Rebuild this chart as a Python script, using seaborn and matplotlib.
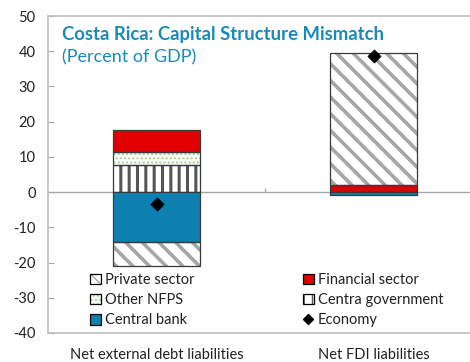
import pandas as pd
import matplotlib
matplotlib.use("Agg")
import matplotlib.pyplot as plt
import seaborn as sns
from matplotlib.patches import Patch
from matplotlib.lines import Line2D

# ------------------------------ dados ------------------------------
categorias = ["Net external debt liabilities", "Net FDI liabilities"]
central_gov = [7.7, 0.0]
other_nfps = [3.8, 0.0]
financial_sector = [6.0, 2.1]
central_bank = [-14.3, -0.7]
private_sector = [-6.6, 37.4]
economy = [-3.4, 38.7]

titulo = "Costa Rica: Capital Structure Mismatch"
subtitulo = "(Percent of GDP)"
yticks = [-40, -30, -20, -10, 0, 10, 20, 30, 40, 50]

# ordem de empilhamento (igual ao Excel)
series = {
    "Centra government": central_gov,
    "Other NFPS": other_nfps,
    "Financial sector": financial_sector,
    "Central bank": central_bank,
    "Private sector": private_sector,
}

# estilo de cada serie: cor de fundo, hachura, cor da hachura, espessura
estilos = {
    "Centra government": ("white", "||", "#555555", 2.2),
    "Other NFPS": ("white", "....", "#a9d08e", 1.0),
    "Financial sector": ("#e00000", None, None, 0),
    "Central bank": ("#0d80b0", None, None, 0),
    "Private sector": ("white", "\\\\", "#a6a6a6", 2.6),
}

azul_titulo = "#1a8abb"
borda = "#3a3a3a"

sns.set_theme(style="white")
plt.rcParams["font.family"] = ["Lato", "DejaVu Sans"]

fig = plt.figure(figsize=(4.7, 3.62), dpi=100)
ax = fig.add_axes([48 / 470, 1 - 333 / 362, 434 / 470, 317 / 362])

df = pd.DataFrame(series, index=categorias)
x = list(range(len(categorias)))
largura = 0.4

base_pos = [0.0] * len(x)
base_neg = [0.0] * len(x)
for nome in df.columns:
    cor, hatch, cor_hatch, lw_hatch = estilos[nome]
    for i, v in enumerate(df[nome]):
        if v == 0:
            continue
        if v > 0:
            b = base_pos[i]
            base_pos[i] += v
        else:
            b = base_neg[i]
            base_neg[i] += v
        if hatch:
            with plt.rc_context({"hatch.linewidth": lw_hatch}):
                ax.bar(x[i], v, largura, bottom=b, color=cor, edgecolor=cor_hatch,
                       hatch=hatch, linewidth=0, zorder=2)
            ax.bar(x[i], v, largura, bottom=b, fill=False, edgecolor=borda,
                   linewidth=0.9, zorder=3)
        else:
            ax.bar(x[i], v, largura, bottom=b, color=cor, edgecolor=borda,
                   linewidth=0.9, zorder=3)

# pontos da economia
sns.scatterplot(x=x, y=economy, marker="D", s=45, color="black",
                edgecolor="black", ax=ax, zorder=5, legend=False)

# eixos
ax.axhline(0, color="#a6a6a6", linewidth=1.0, zorder=1)
ax.vlines(0.5, 0, 1.3, color="#a6a6a6", linewidth=1.0, zorder=1)
ax.set_xlim(-0.5, 1.5)
ax.set_ylim(-40, 50)
ax.set_yticks(yticks)
ax.set_yticklabels([str(t) for t in yticks], fontsize=10.5, color="#222222")
ax.set_xticks(x)
ax.set_xticklabels(categorias, fontsize=10.5, color="#222222")
ax.tick_params(axis="y", direction="in", length=4, width=0.8, color="#a6a6a6",
               pad=9, left=True)
ax.tick_params(axis="x", length=0, pad=11)
for lado in ["left", "top", "bottom"]:
    ax.spines[lado].set_color("#bfbfbf")
    ax.spines[lado].set_linewidth(1.2)
ax.spines["right"].set_visible(False)
ax.set_xlabel("")
ax.set_ylabel("")

# titulo
fig.text(62 / 470, 1 - 40 / 362, titulo, fontsize=13.3, fontweight="bold",
         color=azul_titulo, va="baseline")
fig.text(62 / 470, 1 - 62 / 362, subtitulo, fontsize=13, color=azul_titulo,
         va="baseline")

# legenda
def handle(nome):
    cor, hatch, cor_hatch, lw_hatch = estilos[nome]
    if hatch:
        return (Patch(facecolor=cor, edgecolor=cor_hatch, hatch=hatch, linewidth=0),
                Patch(fill=False, edgecolor="black", linewidth=0.9))
    return Patch(facecolor=cor, edgecolor="black", linewidth=0.9)

ordem = ["Private sector", "Other NFPS", "Central bank", "Financial sector",
         "Centra government"]
handles = [handle(n) for n in ordem]
handles.append(Line2D([], [], marker="D", color="black", linestyle="none",
                      markersize=5))
labels = ordem + ["Economy"]
ax.legend(handles, labels, ncol=2, frameon=False, fontsize=10.5,
          loc="upper left", bbox_to_anchor=(42 / 434, (333 - 273) / 317),
          handlelength=0.75, handleheight=0.75, handletextpad=0.3,
          columnspacing=7.4, labelspacing=0.42, borderaxespad=0, borderpad=0,
          labelcolor="#222222")

fig.savefig("out.png", dpi=100)
